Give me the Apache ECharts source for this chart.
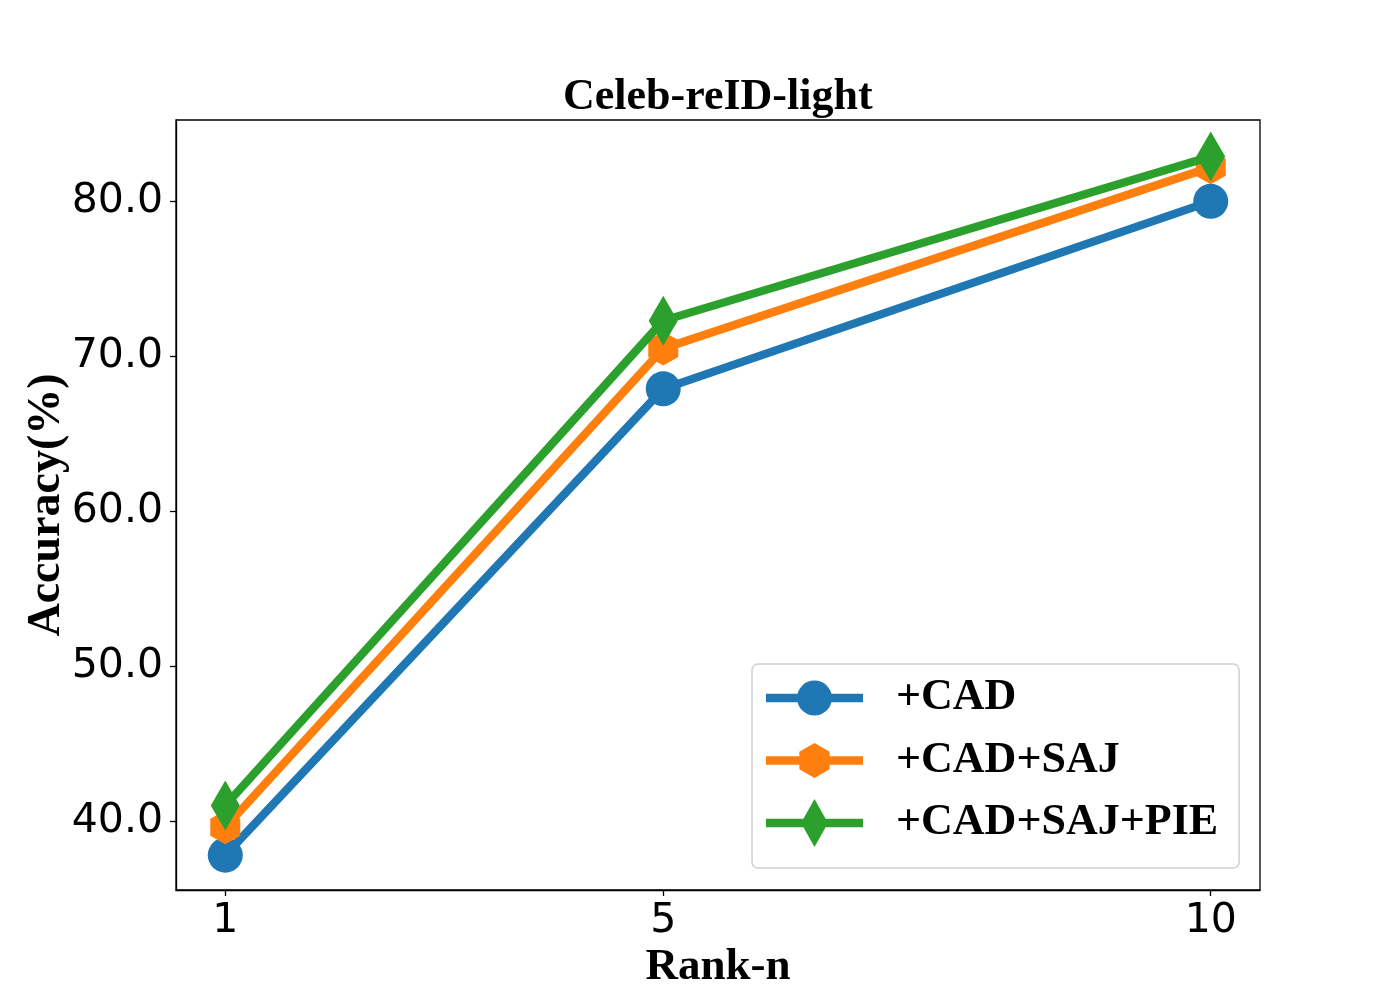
<!DOCTYPE html>
<html>
<head>
<meta charset="utf-8">
<script src="https://cdn.jsdelivr.net/npm/echarts@6/dist/echarts.min.js"></script>
<style>
  html, body { margin: 0; padding: 0; background: #fff; }
  #chart { width: 1400px; height: 1000px; }
</style>
</head>
<body>
<div id="chart"></div>
<script>
// values
var ranks = [1, 5, 10];
var cad = [37.8, 67.9, 80.0];
var cadSaj = [39.6, 70.5, 82.2];
var cadSajPie = [41.0, 72.3, 82.9];
var yTicks = [40, 50, 60, 70, 80];
var names = ['+CAD', '+CAD+SAJ', '+CAD+SAJ+PIE'];
var colors = ['#1f77b4', '#ff7f0e', '#2ca02c'];

var hexPath = 'path://M43.3,0L86.6,25L86.6,75L43.3,100L0,75L0,25Z';
var diaPath = 'path://M29,0L58,50L29,100L0,50Z';

// legend icons: line + marker, with tiny corner specks so every icon has the same box
var specks = 'M0,0L0.01,0L0,0.01Z M125,50L124.99,50L125,49.99Z ';
var bar = 'M0,20.85L97,20.85L97,29.15L0,29.15Z ';
var legendIcons = [
  'path://' + specks + bar + 'M66,25A17.5,17.5 0 1,1 31,25A17.5,17.5 0 1,1 66,25Z',
  'path://' + specks + bar + 'M48.5,7.5L63.65,16.25L63.65,33.75L48.5,42.5L33.35,33.75L33.35,16.25Z',
  'path://' + specks + bar + 'M48.5,1L62,25L48.5,49L35,25Z'
];

function pairs(vals) {
  return ranks.map(function (r, i) { return [r, vals[i]]; });
}

var chart = echarts.init(document.getElementById('chart'));
var serif = 'Liberation Serif, Times New Roman, serif';
var sans = 'DejaVu Sans, sans-serif';

chart.setOption({
  animation: false,
  backgroundColor: '#fff',
  title: {
    text: 'Celeb-reID-light',
    left: 558,
    top: 71,
    textStyle: { fontFamily: serif, fontWeight: 'bold', fontSize: 44, color: '#000' }
  },
  grid: {
    left: 176, right: 140, top: 120, bottom: 110,
    show: true, borderColor: '#000', borderWidth: 1.3, backgroundColor: 'transparent'
  },
  legend: {
    left: 752, top: 664,
    orient: 'vertical',
    itemWidth: 125, itemHeight: 50, itemGap: 12.5,
    padding: [9, 21, 20, 14],
    backgroundColor: 'rgba(255,255,255,0.8)',
    borderColor: '#d0d0d0', borderWidth: 1.5, borderRadius: 6,
    itemStyle: { borderWidth: 0 },
    textStyle: { fontFamily: serif, fontWeight: 'bold', fontSize: 44, color: '#000' },
    data: names.map(function (n, i) { return { name: n, icon: legendIcons[i] }; })
  },
  xAxis: {
    type: 'value',
    min: 0.55, max: 10.45,
    name: 'Rank-n',
    nameLocation: 'middle',
    nameGap: 55,
    nameMoveOverlap: false,
    nameTextStyle: { fontFamily: serif, fontWeight: 'bold', fontSize: 45, color: '#000' },
    axisLine: { show: true, lineStyle: { color: '#000', width: 1.3 } },
    axisTick: { show: true, length: 6, customValues: ranks, lineStyle: { color: '#000', width: 1.3 } },
    axisLabel: { customValues: ranks, margin: 11, fontFamily: sans, fontSize: 41, color: '#000' },
    splitLine: { show: false }
  },
  yAxis: {
    type: 'value',
    min: 35.55, max: 85.25,
    name: 'Accuracy(%)',
    nameLocation: 'middle',
    nameGap: 106,
    nameMoveOverlap: false,
    nameTextStyle: { fontFamily: serif, fontWeight: 'bold', fontSize: 46, color: '#000' },
    axisLine: { show: true, lineStyle: { color: '#000', width: 1.3 } },
    axisTick: { show: true, length: 6, customValues: yTicks, lineStyle: { color: '#000', width: 1.3 } },
    axisLabel: {
      customValues: yTicks, margin: 13, fontFamily: sans, fontSize: 41, color: '#000',
      formatter: function (v) { return v.toFixed(1); }
    },
    splitLine: { show: false }
  },
  series: [
    {
      name: names[0], type: 'line', z: 2, data: pairs(cad),
      symbol: 'circle', symbolSize: 35,
      lineStyle: { color: colors[0], width: 8.3 },
      itemStyle: { color: colors[0] }
    },
    {
      name: names[1], type: 'line', z: 3, data: pairs(cadSaj),
      symbol: hexPath, symbolSize: [30, 34],
      lineStyle: { color: colors[1], width: 8.3 },
      itemStyle: { color: colors[1] }
    },
    {
      name: names[2], type: 'line', z: 4, data: pairs(cadSajPie),
      symbol: diaPath, symbolSize: [29, 50],
      lineStyle: { color: colors[2], width: 8.3 },
      itemStyle: { color: colors[2] }
    }
  ]
});
</script>
</body>
</html>
